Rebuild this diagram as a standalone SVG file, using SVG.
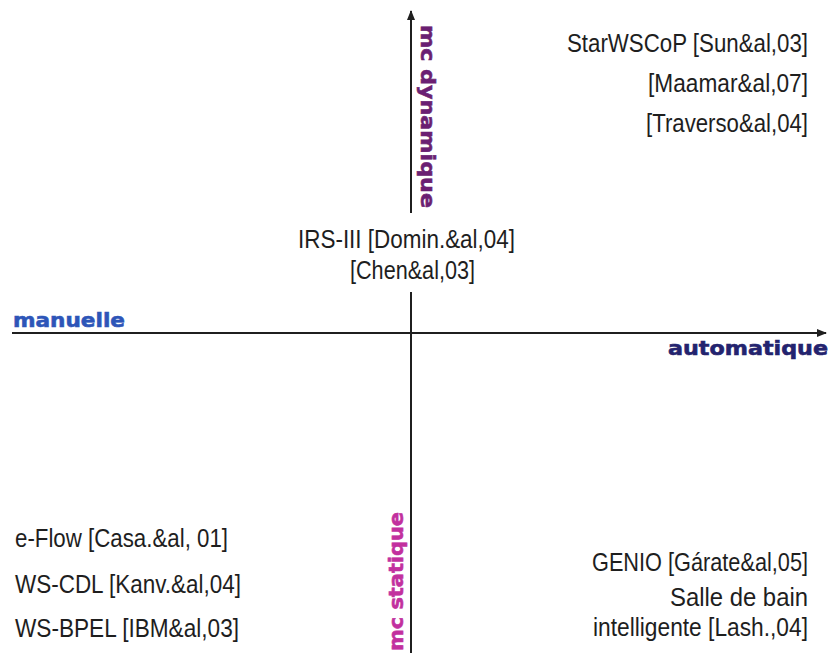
<svg xmlns="http://www.w3.org/2000/svg" width="830" height="653" viewBox="0 0 830 653">
  <style>
    .ref { font-family: "Liberation Sans", Arial, sans-serif; font-size: 25px; fill: #1e1e1e; }
    .end { text-anchor: end; }
    .axis-label { font-family: "DejaVu Sans", "Liberation Sans", sans-serif; font-weight: bold; font-size: 20px; stroke-width: 0.6; }
    .axis { stroke: #1f1f1f; stroke-width: 2; fill: none; }
  </style>
  <defs>
    <marker id="arrow" viewBox="0 0 10 8" refX="9" refY="4" markerWidth="10" markerHeight="8" markerUnits="userSpaceOnUse" orient="auto">
      <path d="M0,0 L10,4 L0,8 Z" fill="#1f1f1f"/>
    </marker>
  </defs>
  <rect width="830" height="653" fill="#ffffff"/>

  <!-- axes -->
  <g id="connectors">
    <line class="axis" x1="411" y1="653" x2="411" y2="11" marker-end="url(#arrow)"/>
    <line class="axis" x1="12" y1="333" x2="826" y2="333" marker-end="url(#arrow)"/>
  </g>

  <!-- axis labels -->
  <g id="label-dynamique">
    <text class="axis-label" fill="#6b1f72" stroke="#6b1f72" transform="translate(421,25) rotate(90)" textLength="183" lengthAdjust="spacingAndGlyphs">mc dynamique</text>
  </g>
  <g id="label-statique">
    <text class="axis-label" fill="#c2309e" stroke="#c2309e" transform="translate(403,651) rotate(-90)" textLength="139" lengthAdjust="spacingAndGlyphs">mc statique</text>
  </g>
  <g id="label-manuelle">
    <text class="axis-label" fill="#2d55b8" stroke="#2d55b8" x="13" y="327" textLength="112" lengthAdjust="spacingAndGlyphs">manuelle</text>
  </g>
  <g id="label-automatique">
    <text class="axis-label" fill="#23236e" stroke="#23236e" x="668" y="355" textLength="160" lengthAdjust="spacingAndGlyphs">automatique</text>
  </g>

  <!-- top right quadrant -->
  <g id="dyn-auto">
    <text class="ref end" x="808" y="52" textLength="241" lengthAdjust="spacingAndGlyphs">StarWSCoP [Sun&amp;al,03]</text>
    <text class="ref end" x="808" y="92" textLength="160" lengthAdjust="spacingAndGlyphs">[Maamar&amp;al,07]</text>
    <text class="ref end" x="808" y="132" textLength="162" lengthAdjust="spacingAndGlyphs">[Traverso&amp;al,04]</text>
  </g>

  <!-- centre, over the vertical axis -->
  <g id="dyn-centre">
    <rect x="290" y="213" width="236" height="79" fill="#ffffff"/>
    <text class="ref" x="298" y="248" textLength="217" lengthAdjust="spacingAndGlyphs">IRS-III [Domin.&amp;al,04]</text>
    <text class="ref" x="350" y="279" textLength="125" lengthAdjust="spacingAndGlyphs">[Chen&amp;al,03]</text>
  </g>

  <!-- bottom left quadrant -->
  <g id="stat-manuelle">
    <text class="ref" x="15" y="547" textLength="213" lengthAdjust="spacingAndGlyphs">e-Flow [Casa.&amp;al, 01]</text>
    <text class="ref" x="15" y="593" textLength="226" lengthAdjust="spacingAndGlyphs">WS-CDL [Kanv.&amp;al,04]</text>
    <text class="ref" x="15" y="637" textLength="224" lengthAdjust="spacingAndGlyphs">WS-BPEL [IBM&amp;al,03]</text>
  </g>

  <!-- bottom right quadrant -->
  <g id="stat-auto">
    <text class="ref end" x="808" y="571" textLength="216" lengthAdjust="spacingAndGlyphs">GENIO [Gárate&amp;al,05]</text>
    <text class="ref end" x="808" y="606" textLength="138" lengthAdjust="spacingAndGlyphs">Salle de bain</text>
    <text class="ref end" x="808" y="636" textLength="215" lengthAdjust="spacingAndGlyphs">intelligente [Lash.,04]</text>
  </g>
</svg>
